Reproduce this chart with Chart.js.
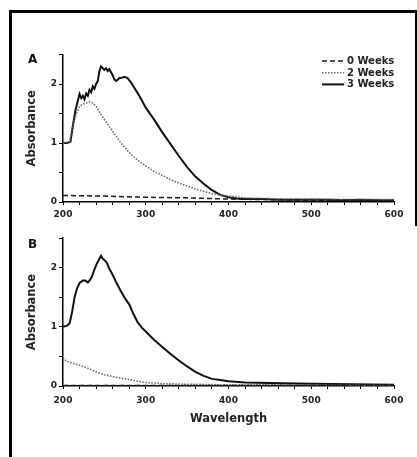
<!DOCTYPE html>
<html><head><meta charset="utf-8">
<script src="https://cdn.jsdelivr.net/npm/chart.js@4/dist/chart.umd.min.js"></script>
<style>
html,body{margin:0;padding:0;background:#fff;width:417px;height:457px;overflow:hidden;position:relative}
#frame{position:absolute;left:9px;top:10px;width:420px;height:470px;border-left:3px solid #000;border-top:3px solid #000;box-sizing:border-box}
#rline{position:absolute;left:415px;top:10px;width:2px;height:216px;background:#000}
canvas{position:absolute;left:0}
#cA{top:0}
#cB{top:230px}
.pl{position:absolute;font:bold 12px "DejaVu Sans",sans-serif;color:#111}
</style></head>
<body>
<div id="frame"></div><div id="rline"></div>
<canvas id="cA" width="417" height="230"></canvas>
<canvas id="cB" width="417" height="227"></canvas>
<div class="pl" style="left:28px;top:52px">A</div>
<div class="pl" style="left:28px;top:237px">B</div>
<script>
// ---- data ----
const seriesLabels = ['0 Weeks', '2 Weeks', '3 Weeks'];
const xTickLabels = [200, 300, 400, 500, 600];
const yTickLabels = [0, 1, 2];

// Panel A
const wlA0 = [200,250,300,350,400,450,500,550,600];
const absA0 = [0.11,0.10,0.08,0.07,0.05,0.04,0.03,0.03,0.02];
const wlA2 = [200,208,212,216,220,224,228,232,236,240,245,250,255,260,265,270,275,280,285,290,300,310,320,330,340,350,360,370,380,390,400,420,440,470,500,550,600];
const absA2 = [1.0,1.02,1.3,1.5,1.62,1.66,1.68,1.7,1.68,1.62,1.5,1.4,1.3,1.2,1.1,1.0,0.92,0.84,0.77,0.71,0.61,0.52,0.45,0.38,0.32,0.27,0.22,0.18,0.14,0.12,0.1,0.07,0.06,0.05,0.05,0.04,0.04];
const wlA3 = [200,205,209,212,215,218,220,222,224,226,228,230,232,234,236,238,240,242,244,246,248,250,252,254,256,258,260,262,264,266,268,270,274,278,282,286,290,295,300,310,320,330,340,350,360,370,380,390,400,410,420,440,460,480,500,520,540,560,580,600];
const absA3 = [1.0,1.0,1.02,1.3,1.55,1.72,1.83,1.76,1.8,1.74,1.84,1.8,1.9,1.86,1.96,1.92,2.0,2.05,2.22,2.3,2.27,2.24,2.27,2.22,2.25,2.2,2.15,2.08,2.05,2.07,2.1,2.1,2.12,2.1,2.03,1.94,1.85,1.73,1.6,1.4,1.18,0.98,0.78,0.59,0.43,0.31,0.2,0.12,0.08,0.06,0.05,0.05,0.04,0.04,0.04,0.04,0.03,0.04,0.03,0.03];

// Panel B
const wlB0 = [200,300,400,500,600];
const absB0 = [0.01,0.01,0.01,0.01,0.01];
const wlB2 = [200,204,210,220,230,240,250,260,270,280,290,300,320,350,400,500,600];
const absB2 = [0.48,0.42,0.39,0.35,0.3,0.24,0.19,0.16,0.13,0.11,0.08,0.06,0.04,0.03,0.02,0.02,0.01];
const wlB3 = [200,205,208,211,214,217,220,224,227,230,232,235,238,241,244,246,248,250,253,256,260,265,270,275,280,285,290,295,300,310,320,330,340,350,360,370,380,390,400,420,450,500,550,600];
const absB3 = [1.0,1.02,1.06,1.25,1.5,1.65,1.74,1.78,1.78,1.75,1.78,1.85,1.97,2.07,2.15,2.2,2.15,2.13,2.08,1.98,1.88,1.73,1.6,1.48,1.38,1.22,1.08,0.99,0.92,0.78,0.66,0.54,0.43,0.33,0.24,0.17,0.12,0.1,0.08,0.06,0.05,0.04,0.03,0.02];

// ---- styles ----
const styles = [
  {borderColor:'#1a1a1a', borderWidth:1.5, borderDash:[5,3]},
  {borderColor:'#666', borderWidth:1.6, borderDash:[1.5,1.5]},
  {borderColor:'#111', borderWidth:2}
];
const FONT = '"DejaVu Sans", sans-serif';

function mkDatasets(pairs){
  return pairs.map((p,i)=>Object.assign({
    label: seriesLabels[i],
    data: p[0].map((x,k)=>({x:x, y:p[1][k]})),
    pointRadius:0, tension:0, fill:false
  }, styles[i]));
}

const legendPlugin = {
  id:'boxLegend',
  afterDraw(chart, args, opts){
    if(!opts || !opts.show) return;
    const ctx = chart.ctx;
    ctx.save();
    ctx.font = 'bold 10px ' + FONT;
    ctx.textBaseline = 'middle';
    ctx.textAlign = 'left';
    chart.data.datasets.forEach((d,i)=>{
      const y = opts.y0 + i*opts.dy;
      ctx.strokeStyle = d.borderColor;
      ctx.lineWidth = d.borderWidth;
      ctx.setLineDash(d.borderDash || []);
      ctx.beginPath(); ctx.moveTo(opts.x0, y); ctx.lineTo(opts.x0+opts.len, y); ctx.stroke();
      ctx.setLineDash([]);
      ctx.fillStyle = '#222';
      ctx.fillText(d.label, opts.x0+opts.len+3, y+0.5);
    });
    ctx.restore();
  }
};

function mkChart(id, datasets, cfg){
  return new Chart(document.getElementById(id), {
    type:'line',
    data:{datasets},
    plugins:[legendPlugin],
    options:{
      responsive:false, animation:false, devicePixelRatio:1,
      layout:{padding:{left:25, right:23, top:cfg.top, bottom:0}},
      plugins:{legend:{display:false}, tooltip:{enabled:false}, boxLegend:cfg.legend},
      scales:{
        x:{type:'linear', min:200, max:600,
          border:{display:true, color:'#000', width:1.5},
          grid:{display:true, drawOnChartArea:false, drawTicks:true, tickLength:3, color:'#000', lineWidth:1},
          ticks:{stepSize:20, autoSkip:false, maxRotation:0, padding:cfg.xpad, color:'#222',
            font:{family:FONT, weight:'bold', size:9},
            callback:(v)=>{const r=Math.round(v); return xTickLabels.includes(r)&&Math.abs(r-v)<1e-6?String(r):'';}},
          title:cfg.xTitle ? {display:true, text:'Wavelength', color:'#222', font:{family:FONT, weight:'bold', size:11.5}, padding:{top:0,bottom:cfg.xTitlePad}} : {display:false},
          afterFit:(s)=>{s.height = cfg.xh;}
        },
        y:{min:0, max:2.5,
          border:{display:true, color:'#000', width:1.5},
          grid:{display:true, drawOnChartArea:false, drawTicks:true, tickLength:4, color:'#000', lineWidth:1},
          ticks:{stepSize:0.5, autoSkip:false, padding:2, color:'#222',
            font:{family:FONT, weight:'bold', size:9},
            callback:(v)=>{const r=Math.round(v); return yTickLabels.includes(r)&&Math.abs(r-v)<1e-6?String(r):'';}},
          title:{display:true, text:'Absorbance', color:'#222', font:{family:FONT, weight:'bold', size:11.5}, padding:{top:0,bottom:0}},
          afterFit:(s)=>{s.width = 38;}
        }
      }
    }
  });
}

mkChart('cA', mkDatasets([[wlA0,absA0],[wlA2,absA2],[wlA3,absA3]]),
  {top:54.5, xh:28, xpad:4, xTitle:false, legend:{show:true, x0:322, y0:61, dy:11.7, len:22}});
mkChart('cB', mkDatasets([[wlB0,absB0],[wlB2,absB2],[wlB3,absB3]]),
  {top:8, xh:71, xpad:6, xTitle:true, xTitlePad:31, legend:{show:false}});
</script>
</body></html>
